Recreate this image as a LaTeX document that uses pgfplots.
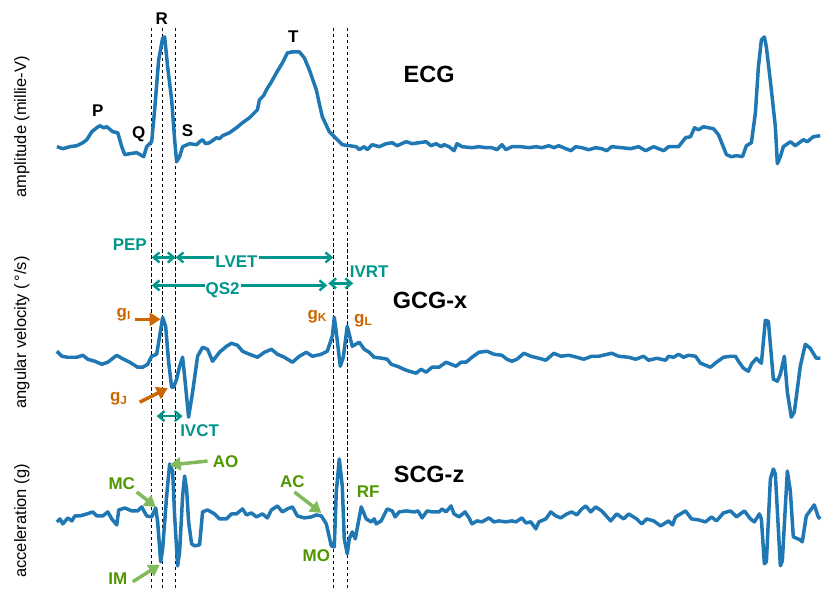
\documentclass[border=0pt]{standalone}
\usepackage{pgfplots}
\pgfplotsset{compat=1.18}
\usepackage{fontspec}
\setmainfont{Liberation Sans}
\usetikzlibrary{arrows.meta}
\definecolor{tabblue}{RGB}{31,119,180}
\definecolor{tealc}{RGB}{0,150,140}
\definecolor{orng}{RGB}{204,102,0}
\definecolor{grtxt}{RGB}{80,150,0}
\definecolor{grarr}{RGB}{130,185,90}
\tikzset{
  lbl/.style={font=\fontsize{17}{19}\selectfont\bfseries, inner sep=0pt},
  ttl/.style={font=\fontsize{23.5}{26}\selectfont\bfseries, inner sep=0pt},
  ylbl/.style={font=\fontsize{16.5}{19}\selectfont, rotate=90, inner sep=0pt},
  tarr/.style={tealc, line width=2.4pt, {Straight Barb[length=6pt,width=10pt]}-{Straight Barb[length=6pt,width=10pt]}},
  farr/.style={line width=3.5pt, -{Triangle[length=11pt,width=13pt]}},
}
\begin{document}
\begin{tikzpicture}
\begin{axis}[
  scale only axis, width=822pt, height=589pt,
  xmin=0, xmax=822, ymin=0, ymax=589, y dir=reverse,
  axis lines=none, xtick=\empty, ytick=\empty, clip=false,
]
\path (axis cs:0,0) rectangle (axis cs:822,589);
% dashed vertical lines
\foreach \xx in {152,163,176,334,348}{
  \edef\tmp{\noexpand\addplot[black, line width=1.4pt, dash pattern=on 3.5pt off 2.5pt, forget plot] coordinates {(\xx,28) (\xx,589)};}
  \tmp
}
% ECG
\addplot[tabblue, line width=3.5pt, line join=round] coordinates {
(57,147)(63,149)(70,147)(77,146)(83,143)(87,140)(92,132)(97,128)(100,126)(104,128)(107,127)(113,132)(118,133)(122,147)(125,155)(130,154)(137,153)(144,157)(147,147)(152,142)(155,110)(159,60)(163,38)(165,37)(168,67)(172,100)(175,140)(177,162)(180,157)(183,147)(190,144)(197,145)(200,142)(203,140)(206,144)(210,143)(217,138)(220,139)(223,136)(230,133)(237,128)(243,123)(250,118)(255,113)(258,110)(260,100)(264,96)(267,90)(272,82)(277,73)(283,63)(288,53)(293,52)(300,52)(305,58)(310,70)(317,90)(320,104)(323,117)(330,132)(337,139)(343,145)(350,146)(357,147)(360,150)(365,147)(368,150)(373,145)(380,147)(387,144)(393,143)(398,146)(407,142)(413,144)(420,143)(427,142)(432,146)(437,144)(442,147)(445,145)(450,147)(455,151)(458,144)(463,147)(473,148)(480,147)(487,148)(493,148)(498,150)(503,145)(507,150)(513,147)(522,147)(530,148)(537,147)(543,148)(550,146)(555,148)(560,146)(567,149)(572,151)(577,147)(583,148)(590,150)(597,148)(603,149)(608,151)(613,147)(623,148)(632,149)(640,147)(647,151)(655,147)(665,151)(670,147)(680,147)(687,138)(692,137)(696,128)(700,130)(705,127)(715,129)(720,135)(724,145)(728,155)(733,157)(738,156)(744,157)(748,146)(753,143)(757,113)(760,67)(763,40)(766,37)(768,47)(773,90)(777,127)(779,164)(782,157)(785,147)(792,142)(797,146)(805,140)(809,142)(815,137)(822,136)
};
% GCG-x
\addplot[tabblue, line width=3.5pt, line join=round] coordinates {
(57,352)(62,357)(68,358)(77,358)(83,356)(88,360)(95,362)(102,365)(108,363)(117,356)(122,359)(130,363)(138,368)(143,368)(148,365)(152,357)(157,355)(160,337)(163,318)(166,327)(169,363)(172,388)(174,388)(177,380)(180,367)(183,358)(185,377)(189,418)(193,393)(198,357)(203,348)(208,350)(213,362)(220,353)(227,347)(232,344)(238,346)(243,352)(250,355)(258,358)(265,353)(272,350)(278,355)(285,358)(293,363)(300,357)(307,353)(313,357)(322,355)(328,352)(333,337)(335,318)(337,333)(341,367)(344,358)(348,327)(353,347)(360,343)(365,350)(370,353)(375,358)(383,359)(388,360)(392,365)(398,367)(407,371)(417,374)(422,370)(427,373)(433,368)(440,368)(447,363)(452,365)(457,367)(462,363)(467,363)(473,358)(480,353)(488,352)(495,355)(503,356)(508,360)(513,362)(518,360)(525,354)(532,357)(540,359)(547,361)(555,354)(562,357)(570,356)(578,358)(585,360)(593,357)(600,357)(613,354)(620,357)(630,358)(637,360)(645,357)(650,361)(658,359)(667,361)(670,357)(675,358)(680,355)(685,358)(690,356)(697,357)(702,364)(712,368)(718,363)(725,358)(732,357)(737,357)(740,362)(745,369)(750,372)(753,365)(758,359)(763,364)(767,321)(770,322)(775,380)(779,382)(782,375)(786,357)(789,393)(793,418)(796,413)(802,367)(807,345)(812,349)(818,359)(822,359)
};
% SCG-z
\addplot[tabblue, line width=3.5pt, line join=round] coordinates {
(57,523)(60,520)(63,525)(68,519)(72,522)(75,517)(80,517)(87,515)(93,513)(97,517)(103,517)(108,513)(112,520)(117,526)(119,511)(125,509)(132,512)(138,512)(142,508)(147,517)(152,518)(156,509)(158,523)(161,563)(163,550)(167,497)(170,465)(173,472)(175,517)(178,567)(180,553)(183,497)(185,477)(187,490)(189,523)(192,545)(195,547)(200,546)(203,513)(208,511)(215,515)(220,520)(227,520)(232,515)(237,515)(243,510)(247,516)(252,514)(257,518)(263,515)(268,519)(272,511)(278,507)(283,513)(288,510)(293,508)(298,517)(305,519)(312,518)(317,516)(322,517)(327,525)(332,547)(335,548)(337,493)(340,460)(343,487)(345,540)(348,555)(350,540)(353,533)(356,540)(362,508)(367,520)(372,523)(375,520)(377,525)(382,522)(388,510)(393,512)(396,518)(400,513)(407,512)(415,513)(419,512)(423,519)(428,512)(433,513)(440,513)(443,510)(447,513)(452,507)(455,515)(460,518)(466,513)(470,519)(473,525)(478,522)(483,523)(490,519)(495,523)(500,522)(507,523)(513,522)(517,523)(523,519)(527,524)(532,523)(537,530)(540,523)(547,520)(552,513)(557,517)(562,519)(568,515)(573,513)(578,516)(583,510)(587,507)(592,513)(597,508)(603,512)(612,522)(618,515)(625,520)(630,515)(638,520)(643,525)(648,520)(655,522)(662,527)(670,522)(674,526)(677,518)(687,512)(693,520)(700,521)(707,523)(713,518)(718,522)(725,514)(732,512)(738,518)(746,512)(752,520)(756,523)(761,515)(763,520)(766,565)(768,563)(772,480)(775,470)(777,475)(782,567)(784,562)(789,472)(792,492)(795,538)(802,541)(804,543)(808,517)(816,506)(820,518)(822,520)
};
% y labels
\node[ylbl] at (axis cs:22,127) {amplitude (millie-V)};
\node[ylbl] at (axis cs:22,333) {angular velocity (\,°/s)};
\node[ylbl] at (axis cs:22,522) {acceleration (g)};
% titles
\node[ttl] at (axis cs:430,75) {ECG};
\node[ttl] at (axis cs:431,301) {GCG-x};
\node[ttl] at (axis cs:430,475) {SCG-z};
% ECG wave labels
\node[lbl] at (axis cs:98,111) {P};
\node[lbl] at (axis cs:139,135) {Q};
\node[lbl] at (axis cs:162,19) {R};
\node[lbl] at (axis cs:188,131) {S};
\node[lbl] at (axis cs:294,37) {T};
% teal intervals
\draw[tarr] (axis cs:152,258) -- (axis cs:176,258);
\draw[tarr] (axis cs:176,258) -- (axis cs:334,258);
\node[lbl, tealc, fill=white, inner sep=1pt] at (axis cs:237,262) {LVET};
\node[lbl, tealc] at (axis cs:130,245) {PEP};
\draw[tarr] (axis cs:152,286) -- (axis cs:328,286);
\node[lbl, tealc, fill=white, inner sep=1pt] at (axis cs:223,291) {QS2};
\draw[tarr] (axis cs:329,284) -- (axis cs:354,284);
\node[lbl, tealc] at (axis cs:370,272) {IVRT};
\draw[tarr] (axis cs:157,417) -- (axis cs:183,417);
\node[lbl, tealc] at (axis cs:200,432) {IVCT};
% orange
\draw[farr, orng] (axis cs:135,320) -- (axis cs:161,320);
\draw[farr, orng] (axis cs:140,403) -- (axis cs:168,389);
\node[lbl, orng] at (axis cs:124,315) {g\textsubscript{I}};
\node[lbl, orng] at (axis cs:119,400) {g\textsubscript{J}};
\node[lbl, orng] at (axis cs:318,317) {g\textsubscript{K}};
\node[lbl, orng] at (axis cs:364,321) {g\textsubscript{L}};
% green
\draw[farr, grarr] (axis cs:137,493) -- (axis cs:156,508);
\draw[farr, grarr] (axis cs:208,462) -- (axis cs:170,466);
\draw[farr, grarr] (axis cs:133,583) -- (axis cs:160,566);
\draw[farr, grarr] (axis cs:295,493) -- (axis cs:322,514);
\node[lbl, grtxt] at (axis cs:122,485) {MC};
\node[lbl, grtxt] at (axis cs:226,463) {AO};
\node[lbl, grtxt] at (axis cs:118,580) {IM};
\node[lbl, grtxt] at (axis cs:293,483) {AC};
\node[lbl, grtxt] at (axis cs:317,557) {MO};
\node[lbl, grtxt] at (axis cs:369,493) {RF};
\end{axis}
\end{tikzpicture}
\end{document}
